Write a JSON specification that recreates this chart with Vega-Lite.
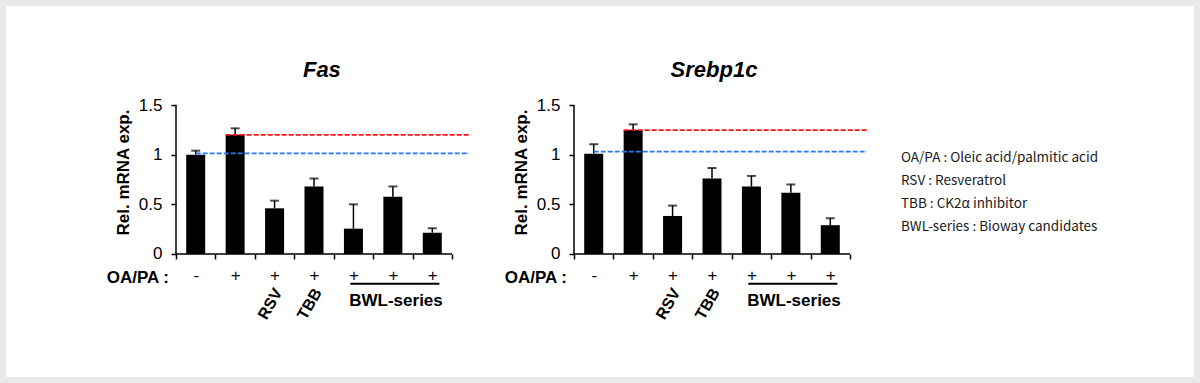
{
  "$schema": "https://vega.github.io/schema/vega-lite/v6.json",
  "background": "#e9e9e9",
  "padding": 6,
  "autosize": {"type": "pad"},
  "datasets": {
    "bars": [
      {"gene": "Fas", "cat": "Control", "value": 1.0, "upper": 1.04},
      {"gene": "Fas", "cat": "OA/PA", "value": 1.2, "upper": 1.265},
      {"gene": "Fas", "cat": "RSV", "value": 0.46, "upper": 0.537},
      {"gene": "Fas", "cat": "TBB", "value": 0.68, "upper": 0.76},
      {"gene": "Fas", "cat": "BWL-1", "value": 0.255, "upper": 0.5},
      {"gene": "Fas", "cat": "BWL-2", "value": 0.577, "upper": 0.68},
      {"gene": "Fas", "cat": "BWL-3", "value": 0.215, "upper": 0.26},
      {"gene": "Srebp1c", "cat": "Control", "value": 1.01, "upper": 1.105},
      {"gene": "Srebp1c", "cat": "OA/PA", "value": 1.248, "upper": 1.305},
      {"gene": "Srebp1c", "cat": "RSV", "value": 0.383, "upper": 0.487},
      {"gene": "Srebp1c", "cat": "TBB", "value": 0.76, "upper": 0.866},
      {"gene": "Srebp1c", "cat": "BWL-1", "value": 0.68, "upper": 0.786},
      {"gene": "Srebp1c", "cat": "BWL-2", "value": 0.617, "upper": 0.7},
      {"gene": "Srebp1c", "cat": "BWL-3", "value": 0.29, "upper": 0.36}
    ],
    "lines": [
      {"gene": "Fas", "kind": "blue", "level": 1.014},
      {"gene": "Fas", "kind": "red", "level": 1.2},
      {"gene": "Srebp1c", "kind": "blue", "level": 1.03},
      {"gene": "Srebp1c", "kind": "red", "level": 1.248}
    ],
    "legend": [
      {"i": 1, "t": "OA/PA : Oleic acid/palmitic acid"},
      {"i": 2, "t": "RSV : Resveratrol"},
      {"i": 3, "t": "TBB : CK2α inhibitor"},
      {"i": 4, "t": "BWL-series : Bioway candidates"}
    ]
  },
  "config": {
    "view": {"stroke": null, "fill": "white"},
    "font": "Liberation Sans",
    "text": {"font": "Liberation Sans", "color": "black"},
    "axis": {
      "labelFont": "Liberation Sans",
      "titleFont": "Liberation Sans",
      "labelColor": "black",
      "titleColor": "black",
      "domainColor": "black",
      "tickColor": "black",
      "tickWidth": 1.5,
      "grid": false
    }
  },
  "bounds": "flush",
  "spacing": 0,
  "hconcat": [
    {
      "width": 170,
      "height": 371,
      "data": {"values": [{"t": ""}]},
      "mark": {"type": "text"},
      "encoding": {
        "x": {"datum": 0, "type": "quantitative", "scale": {"domain": [0, 1]}, "axis": null},
        "y": {"datum": 0, "type": "quantitative", "scale": {"domain": [0, 1]}, "axis": null},
        "text": {"field": "t"}
      }
    },
    {
      "width": 354,
      "height": 371,
      "layer": [
        {
          "data": {"name": "bars"},
          "transform": [{"filter": "datum.gene === 'Fas'"}],
          "mark": {"type": "bar", "width": 19, "color": "black"},
          "encoding": {
            "x": {"field": "cat", "type": "nominal", "sort": null,
              "scale": {"domain": ["Control", "OA/PA", "RSV", "TBB", "BWL-1", "BWL-2", "BWL-3"], "paddingInner": 0, "paddingOuter": 0.989, "align": 0},
              "axis": {"title": null, "domain": false, "offset": -123, "labelExpr": "datum.value === 'Control' ? '-' : (datum.value ? '+' : '')", "labelAngle": 0, "labelFontSize": 17, "labelPadding": 8, "tickBand": "extent", "tickSize": 5}},
            "y": {"field": "value", "type": "quantitative",
              "scale": {"domain": [-1.23826, 2.49665], "nice": false, "zero": false},
              "axis": {"title": "Rel. mRNA exp.", "domain": false, "values": [0, 0.5, 1, 1.5], "format": "~g", "labelFontSize": 17, "labelPadding": 9, "tickSize": 5, "titleFontSize": 17, "titleFontWeight": "bold", "titlePadding": 6, "titleY": 166}}
          }
        },
        {
          "data": {"values": [{}]},
          "mark": {"type": "rule", "color": "black", "strokeWidth": 1.5},
          "encoding": {
            "x": {"datum": "Control", "bandPosition": 0},
            "y": {"datum": 0},
            "y2": {"datum": 1.5}
          }
        },
        {
          "data": {"values": [{}]},
          "mark": {"type": "rule", "color": "black", "strokeWidth": 1.5},
          "encoding": {
            "x": {"datum": "Control", "bandPosition": 0},
            "x2": {"datum": "BWL-3", "bandPosition": 1},
            "y": {"datum": 0}
          }
        },
        {
          "data": {"name": "bars"},
          "transform": [{"filter": "datum.gene === 'Fas'"}],
          "mark": {"type": "rule", "color": "black", "strokeWidth": 1.5},
          "encoding": {
            "x": {"field": "cat", "type": "nominal"},
            "y": {"field": "value", "type": "quantitative"},
            "y2": {"field": "upper"}
          }
        },
        {
          "data": {"name": "bars"},
          "transform": [{"filter": "datum.gene === 'Fas'"}],
          "mark": {"type": "tick", "color": "black", "thickness": 2, "size": 9},
          "encoding": {
            "x": {"field": "cat", "type": "nominal"},
            "y": {"field": "upper", "type": "quantitative"}
          }
        },
        {
          "data": {"name": "lines"},
          "transform": [{"filter": "datum.gene === 'Fas' && datum.kind === 'blue'"}],
          "mark": {"type": "rule", "color": "#2a78f0", "strokeDash": [5, 2], "strokeWidth": 1.7, "x2Offset": 17},
          "encoding": {
            "x": {"datum": "Control", "bandPosition": 0.5},
            "x2": {"datum": "BWL-3", "bandPosition": 1},
            "y": {"field": "level", "type": "quantitative"}
          }
        },
        {
          "data": {"name": "lines"},
          "transform": [{"filter": "datum.gene === 'Fas' && datum.kind === 'red'"}],
          "mark": {"type": "rule", "color": "#ff1010", "strokeDash": [5, 2], "strokeWidth": 1.7, "x2Offset": 17},
          "encoding": {
            "x": {"datum": "OA/PA", "bandPosition": 0.26},
            "x2": {"datum": "BWL-3", "bandPosition": 1},
            "y": {"field": "level", "type": "quantitative"}
          }
        },
        {
          "data": {"values": [{"t": "Fas"}]},
          "mark": {"type": "text", "align": "center", "baseline": "alphabetic", "fontWeight": "bold", "fontStyle": "italic", "fontSize": 22},
          "encoding": {
            "x": {"datum": "TBB", "bandPosition": 0.7},
            "y": {"datum": 1.782},
            "text": {"field": "t"}
          }
        },
        {
          "data": {"values": [{"t": "OA/PA :"}]},
          "mark": {"type": "text", "align": "right", "baseline": "alphabetic", "fontWeight": "bold", "fontSize": 17, "dx": -7},
          "encoding": {
            "x": {"datum": "Control", "bandPosition": 0},
            "y": {"datum": -0.29},
            "text": {"field": "t"}
          }
        },
        {
          "data": {"values": [{"cat": "RSV"}, {"cat": "TBB"}]},
          "mark": {"type": "text", "angle": -60, "align": "right", "baseline": "middle", "fontWeight": "bold", "fontSize": 16},
          "encoding": {
            "x": {"field": "cat", "type": "nominal", "bandPosition": 0.6},
            "y": {"datum": -0.36},
            "text": {"field": "cat"}
          }
        },
        {
          "data": {"values": [{}]},
          "mark": {"type": "rule", "color": "black", "strokeWidth": 2},
          "encoding": {
            "x": {"datum": "BWL-1", "bandPosition": 0.42},
            "x2": {"datum": "BWL-3", "bandPosition": 0.68},
            "y": {"datum": -0.3}
          }
        },
        {
          "data": {"values": [{"t": "BWL-series"}]},
          "mark": {"type": "text", "baseline": "alphabetic", "fontWeight": "bold", "fontSize": 17},
          "encoding": {
            "x": {"datum": "BWL-2", "bandPosition": 0.58},
            "y": {"datum": -0.52},
            "text": {"field": "t"}
          }
        }
      ]
    },
    {
      "width": 44,
      "height": 371,
      "data": {"values": [{"t": ""}]},
      "mark": {"type": "text"},
      "encoding": {
        "x": {"datum": 0, "type": "quantitative", "scale": {"domain": [0, 1]}, "axis": null},
        "y": {"datum": 0, "type": "quantitative", "scale": {"domain": [0, 1]}, "axis": null},
        "text": {"field": "t"}
      }
    },
    {
      "width": 327,
      "height": 371,
      "layer": [
        {
          "data": {"name": "bars"},
          "transform": [{"filter": "datum.gene === 'Srebp1c'"}],
          "mark": {"type": "bar", "width": 19, "color": "black"},
          "encoding": {
            "x": {"field": "cat", "type": "nominal", "sort": null,
              "scale": {"domain": ["Control", "OA/PA", "RSV", "TBB", "BWL-1", "BWL-2", "BWL-3"], "paddingInner": 0, "paddingOuter": 0.6466, "align": 0},
              "axis": {"title": null, "domain": false, "offset": -123, "labelExpr": "datum.value === 'Control' ? '-' : (datum.value ? '+' : '')", "labelAngle": 0, "labelFontSize": 17, "labelPadding": 8, "tickBand": "extent", "tickSize": 5}},
            "y": {"field": "value", "type": "quantitative",
              "scale": {"domain": [-1.23826, 2.49665], "nice": false, "zero": false},
              "axis": {"title": "Rel. mRNA exp.", "domain": false, "values": [0, 0.5, 1, 1.5], "format": "~g", "labelFontSize": 17, "labelPadding": 9, "tickSize": 5, "titleFontSize": 17, "titleFontWeight": "bold", "titlePadding": 6, "titleY": 166}}
          }
        },
        {
          "data": {"values": [{}]},
          "mark": {"type": "rule", "color": "black", "strokeWidth": 1.5},
          "encoding": {
            "x": {"datum": "Control", "bandPosition": 0},
            "y": {"datum": 0},
            "y2": {"datum": 1.5}
          }
        },
        {
          "data": {"values": [{}]},
          "mark": {"type": "rule", "color": "black", "strokeWidth": 1.5},
          "encoding": {
            "x": {"datum": "Control", "bandPosition": 0},
            "x2": {"datum": "BWL-3", "bandPosition": 1},
            "y": {"datum": 0}
          }
        },
        {
          "data": {"name": "bars"},
          "transform": [{"filter": "datum.gene === 'Srebp1c'"}],
          "mark": {"type": "rule", "color": "black", "strokeWidth": 1.5},
          "encoding": {
            "x": {"field": "cat", "type": "nominal"},
            "y": {"field": "value", "type": "quantitative"},
            "y2": {"field": "upper"}
          }
        },
        {
          "data": {"name": "bars"},
          "transform": [{"filter": "datum.gene === 'Srebp1c'"}],
          "mark": {"type": "tick", "color": "black", "thickness": 2, "size": 9},
          "encoding": {
            "x": {"field": "cat", "type": "nominal"},
            "y": {"field": "upper", "type": "quantitative"}
          }
        },
        {
          "data": {"name": "lines"},
          "transform": [{"filter": "datum.gene === 'Srebp1c' && datum.kind === 'blue'"}],
          "mark": {"type": "rule", "color": "#2a78f0", "strokeDash": [5, 2], "strokeWidth": 1.7, "x2Offset": 17},
          "encoding": {
            "x": {"datum": "Control", "bandPosition": 0.5},
            "x2": {"datum": "BWL-3", "bandPosition": 1},
            "y": {"field": "level", "type": "quantitative"}
          }
        },
        {
          "data": {"name": "lines"},
          "transform": [{"filter": "datum.gene === 'Srebp1c' && datum.kind === 'red'"}],
          "mark": {"type": "rule", "color": "#ff1010", "strokeDash": [5, 2], "strokeWidth": 1.7, "x2Offset": 17},
          "encoding": {
            "x": {"datum": "OA/PA", "bandPosition": 0.26},
            "x2": {"datum": "BWL-3", "bandPosition": 1},
            "y": {"field": "level", "type": "quantitative"}
          }
        },
        {
          "data": {"values": [{"t": "Srebp1c"}]},
          "mark": {"type": "text", "align": "center", "baseline": "alphabetic", "fontWeight": "bold", "fontStyle": "italic", "fontSize": 22},
          "encoding": {
            "x": {"datum": "TBB", "bandPosition": 0.55},
            "y": {"datum": 1.782},
            "text": {"field": "t"}
          }
        },
        {
          "data": {"values": [{"t": "OA/PA :"}]},
          "mark": {"type": "text", "align": "right", "baseline": "alphabetic", "fontWeight": "bold", "fontSize": 17, "dx": -7},
          "encoding": {
            "x": {"datum": "Control", "bandPosition": 0},
            "y": {"datum": -0.29},
            "text": {"field": "t"}
          }
        },
        {
          "data": {"values": [{"cat": "RSV"}, {"cat": "TBB"}]},
          "mark": {"type": "text", "angle": -60, "align": "right", "baseline": "middle", "fontWeight": "bold", "fontSize": 16},
          "encoding": {
            "x": {"field": "cat", "type": "nominal", "bandPosition": 0.6},
            "y": {"datum": -0.36},
            "text": {"field": "cat"}
          }
        },
        {
          "data": {"values": [{}]},
          "mark": {"type": "rule", "color": "black", "strokeWidth": 2},
          "encoding": {
            "x": {"datum": "BWL-1", "bandPosition": 0.42},
            "x2": {"datum": "BWL-3", "bandPosition": 0.68},
            "y": {"datum": -0.3}
          }
        },
        {
          "data": {"values": [{"t": "BWL-series"}]},
          "mark": {"type": "text", "baseline": "alphabetic", "fontWeight": "bold", "fontSize": 17},
          "encoding": {
            "x": {"datum": "BWL-2", "bandPosition": 0.58},
            "y": {"datum": -0.52},
            "text": {"field": "t"}
          }
        }
      ]
    },
    {
      "width": 293,
      "height": 371,
      "data": {"name": "legend"},
      "mark": {"type": "text", "align": "left", "baseline": "middle", "font": "Noto Sans CJK KR", "fontSize": 13.5, "color": "#1a1a1a"},
      "encoding": {
        "x": {"datum": 0, "type": "quantitative", "scale": {"domain": [0, 1]}, "axis": null},
        "y": {"field": "i", "type": "quantitative", "scale": {"domain": [-5.609, 10.522], "reverse": true, "zero": false, "nice": false}, "axis": null},
        "text": {"field": "t"}
      }
    }
  ]
}
